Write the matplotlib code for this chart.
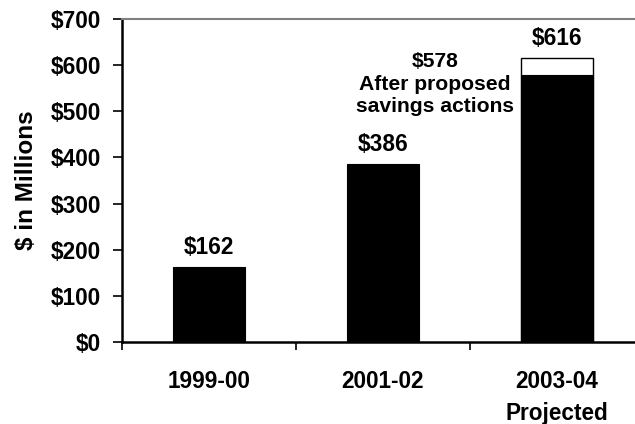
import matplotlib
matplotlib.use("Agg")
import matplotlib.pyplot as plt

plt.rcParams['font.family'] = ['Liberation Sans', 'DejaVu Sans']
plt.rcParams['font.weight'] = 'bold'

categories = ["1999-00", "2001-02", "2003-04\nProjected"]
totals = [162, 386, 616]
after_savings = 578
yticks = [0, 100, 200, 300, 400, 500, 600, 700]
ylabels = ["$" + str(v) for v in yticks]

FS = 16.3

fig = plt.figure(figsize=(6.35, 4.24), dpi=100)
W, H = 635, 424
ax = fig.add_axes([122 / W, 1 - 342 / H, 522 / W, (342 - 19) / H])

x = list(range(len(categories)))
bw = 0.41
# first two years: solid bars
ax.bar(x[:2], totals[:2], width=bw, color="black", edgecolor="black", linewidth=0.8, zorder=2)
# projected year: outlined total with the post-savings amount filled in
ax.bar(x[2], totals[2], width=bw, color="white", edgecolor="black", linewidth=1.0, zorder=2)
ax.bar(x[2], after_savings, width=bw, color="black", edgecolor="black", linewidth=0.8, zorder=3)

for xi, v in zip(x, totals):
    ax.annotate(f"${v}", xy=(xi, v), xytext=(0, 14), textcoords="offset points",
                ha="center", va="center", fontsize=FS, fontweight="bold")

ax.text(1.3, 559, f"${after_savings}\nAfter proposed\nsavings actions",
        ha="center", va="center", fontsize=15.2, fontweight="bold", linespacing=1.25)

ax.set_xlim(-0.5, 2.5)
ax.set_ylim(0, 700)
ax.set_yticks(yticks)
ax.set_yticklabels(ylabels, fontsize=FS, fontweight="bold")
ax.tick_params(axis="y", direction="out", length=6.5, width=1.2, pad=8.5, colors="black")

# category boundaries carry the tick marks, centers carry the labels
ax.set_xticks([-0.5, 0.5, 1.5, 2.5])
ax.set_xticklabels([])
ax.tick_params(axis="x", which="major", direction="out", length=6, width=1.2)
ax.set_xticks(x, minor=True)
ax.set_xticklabels(categories, minor=True, fontsize=FS, fontweight="bold", linespacing=1.5)
ax.tick_params(axis="x", which="minor", length=0, pad=20)

ax.set_ylabel("$ in Millions", fontsize=17.5, fontweight="bold", labelpad=9)

for s in ["left", "bottom"]:
    ax.spines[s].set_linewidth(1.8)
    ax.spines[s].set_color("black")
ax.spines["top"].set_color("#808080")
ax.spines["top"].set_linewidth(1.5)
ax.spines["right"].set_visible(False)

fig.savefig("out.png", dpi=100)
